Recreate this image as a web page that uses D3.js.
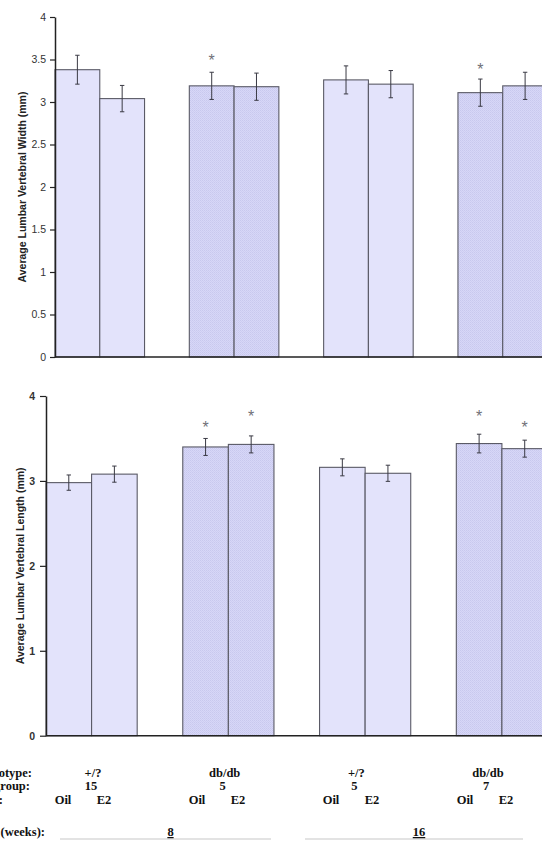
<!DOCTYPE html>
<meta charset="utf-8">
<script src="https://d3js.org/d3.v7.min.js"></script>
<style>
body { margin: 0; background: #fff; }
svg { display: block; }
.tick text { font-family: "Liberation Sans", Arial, sans-serif; }
.tbl { font-family: "Liberation Serif", "Times New Roman", serif; font-weight: bold; font-size: 12.5px; fill: #111; }
</style>
<div id="chart"></div>
<script>
// values
var genotypes = ["+/?", "db/db", "+/?", "db/db"];
var nPerGroup = ["15", "5", "5", "7"];
var treatments = ["Oil", "E2"];
var ages = ["8", "16"];

var widthMean = [3.38, 3.04, 3.19, 3.18, 3.26, 3.21, 3.11, 3.19];
var widthErr  = [0.17, 0.155, 0.16, 0.16, 0.165, 0.16, 0.16, 0.16];
var widthStar = [null, null, 3.53, null, null, null, 3.42, null];

var lengthMean = [2.98, 3.08, 3.40, 3.43, 3.16, 3.09, 3.44, 3.38];
var lengthErr  = [0.09, 0.095, 0.10, 0.10, 0.10, 0.095, 0.11, 0.10];
var lengthStar = [null, null, 3.67, 3.80, null, null, 3.80, 3.67];

var W = 542, H = 842;

var svg = d3.select("#chart").append("svg")
  .attr("width", W)
  .attr("height", H);

// fine hatch for the db/db bars
var defs = svg.append("defs");
var pat = defs.append("pattern")
  .attr("id", "hatch")
  .attr("patternUnits", "userSpaceOnUse")
  .attr("width", 2).attr("height", 2);
pat.append("rect").attr("width", 2).attr("height", 2).attr("fill", "#d7d7f7");
pat.append("rect").attr("width", 1).attr("height", 1).attr("fill", "#c8c8ee");
pat.append("rect").attr("x", 1).attr("y", 1).attr("width", 1).attr("height", 1).attr("fill", "#cdcdf2");

function toRows(means, errs, stars) {
  return means.map(function(m, i) {
    return {group: Math.floor(i / 2), trt: treatments[i % 2], mean: m, err: errs[i], star: stars[i]};
  });
}

function panel(opt) {
  var rows = toRows(opt.means, opt.errs, opt.stars);
  var g = svg.append("g");

  var x0 = d3.scaleBand()
    .domain(d3.range(genotypes.length))
    .range([opt.left, 547.5])
    .paddingInner(1 / 3)
    .paddingOuter(0);

  var x1 = d3.scaleBand()
    .domain(treatments)
    .range([0, x0.bandwidth()]);

  var y = d3.scaleLinear()
    .domain([0, 4])
    .range([opt.bottom, opt.top]);

  function cx(d) { return x0(d.group) + x1(d.trt) + x1.bandwidth() / 2; }

  // bars
  g.selectAll(".bar")
    .data(rows)
    .enter().append("rect")
      .attr("class", "bar")
      .attr("x", function(d) { return x0(d.group) + x1(d.trt); })
      .attr("width", x1.bandwidth())
      .attr("y", function(d) { return y(d.mean); })
      .attr("height", function(d) { return y(0) - y(d.mean); })
      .attr("fill", function(d) { return genotypes[d.group] === "db/db" ? "url(#hatch)" : "#e3e3fb"; })
      .attr("stroke", "#5a5a66")
      .attr("stroke-width", 1.1);

  // error bars
  var eb = g.selectAll(".err")
    .data(rows)
    .enter().append("g")
      .attr("class", "err")
      .attr("stroke", "#3a3a44")
      .attr("stroke-width", 1);
  eb.append("line")
    .attr("x1", cx).attr("x2", cx)
    .attr("y1", function(d) { return y(d.mean - d.err); })
    .attr("y2", function(d) { return y(d.mean + d.err); });
  [-1, 1].forEach(function(s) {
    eb.append("line")
      .attr("x1", function(d) { return cx(d) - 2.2; })
      .attr("x2", function(d) { return cx(d) + 2.2; })
      .attr("y1", function(d) { return y(d.mean + s * d.err); })
      .attr("y2", function(d) { return y(d.mean + s * d.err); });
  });

  // significance stars
  g.selectAll(".star")
    .data(rows.filter(function(d) { return d.star !== null; }))
    .enter().append("text")
      .attr("class", "star")
      .attr("x", cx)
      .attr("y", function(d) { return y(d.star) + 9; })
      .attr("text-anchor", "middle")
      .style("font-family", "Liberation Sans, Arial, sans-serif")
      .style("font-size", "16px")
      .style("fill", "#707078")
      .text("*");

  // baseline
  g.append("line")
    .attr("x1", opt.left).attr("x2", W)
    .attr("y1", y(0)).attr("y2", y(0))
    .attr("stroke", "#222").attr("stroke-width", 1.5);

  // y axis
  var ax = g.append("g")
    .attr("transform", "translate(" + opt.left + ",0)")
    .call(d3.axisLeft(y)
      .tickValues(opt.ticks)
      .tickSize(opt.tickLen)
      .tickSizeOuter(0)
      .tickPadding(opt.tickPad)
      .tickFormat(function(d) { return String(d); }));
  ax.select(".domain").attr("stroke", "#222").attr("stroke-width", 1.5);
  ax.selectAll(".tick line").attr("stroke", "#222").attr("stroke-width", 1.2);
  ax.selectAll(".tick text")
    .style("font-size", "10.5px")
    .style("font-weight", opt.tickBold ? "bold" : "normal")
    .style("fill", "#333");

  g.append("text")
    .attr("transform", "translate(" + opt.titleX + "," + ((opt.top + opt.bottom) / 2) + ") rotate(-90)")
    .attr("text-anchor", "middle")
    .attr("dy", "0.35em")
    .style("font-family", "Liberation Sans, Arial, sans-serif")
    .style("font-weight", "bold")
    .style("font-size", "10.5px")
    .style("fill", "#222")
    .text(opt.title);
}

panel({
  means: widthMean, errs: widthErr, stars: widthStar,
  left: 55, top: 17, bottom: 357,
  ticks: d3.range(0, 4.01, 0.5), tickLen: 5, tickPad: 4, tickBold: false,
  titleX: 22, title: "Average Lumbar Vertebral Width (mm)"
});

panel({
  means: lengthMean, errs: lengthErr, stars: lengthStar,
  left: 46, top: 396, bottom: 735.7,
  ticks: [0, 1, 2, 3, 4], tickLen: 6, tickPad: 5, tickBold: true,
  titleX: 20, title: "Average Lumbar Vertebral Length (mm)"
});

// table beneath the lower panel (cropped at the left edge, as in the figure)
var tbl = svg.append("g").attr("class", "tbl");
var rowY = [777, 790, 804, 836];
var rowLabels = [["Genotype:", 32], ["n/group:", 30], ["Tx:", 3], ["Age (weeks):", 45]];

tbl.selectAll(".rowlab")
  .data(rowLabels)
  .enter().append("text")
    .attr("x", function(d) { return d[1]; })
    .attr("y", function(d, i) { return rowY[i]; })
    .attr("text-anchor", "end")
    .text(function(d) { return d[0]; });

var genoX = d3.scaleLinear().domain([0, 3]).range([93, 488]);
var nX = d3.scaleLinear().domain([0, 3]).range([91, 486]);
var oilX = d3.scaleLinear().domain([0, 3]).range([63, 465]);
var trtGap = 41;

tbl.selectAll(".geno")
  .data(genotypes)
  .enter().append("text")
    .attr("x", function(d, i) { return genoX(i); })
    .attr("y", rowY[0])
    .attr("text-anchor", "middle")
    .text(function(d) { return d; });

tbl.selectAll(".n")
  .data(nPerGroup)
  .enter().append("text")
    .attr("x", function(d, i) { return nX(i); })
    .attr("y", rowY[1])
    .attr("text-anchor", "middle")
    .text(function(d) { return d; });

var trtCells = [];
genotypes.forEach(function(gn, i) {
  treatments.forEach(function(t, j) { trtCells.push({g: i, j: j, t: t}); });
});
tbl.selectAll(".trt")
  .data(trtCells)
  .enter().append("text")
    .attr("x", function(d) { return oilX(d.g) + d.j * trtGap; })
    .attr("y", rowY[2])
    .attr("text-anchor", "middle")
    .text(function(d) { return d.t; });

// age spans
var ageSpan = [[60, 271], [305, 523]];
ages.forEach(function(a, i) {
  var s = ageSpan[i];
  tbl.append("line")
    .attr("x1", s[0]).attr("x2", s[1])
    .attr("y1", 839).attr("y2", 839)
    .attr("stroke", "#c8c8c8").attr("stroke-width", 1.2);
  tbl.append("text")
    .attr("x", (s[0] + s[1]) / 2 + 5)
    .attr("y", rowY[3])
    .attr("text-anchor", "middle")
    .style("text-decoration", "underline")
    .text(a);
});
</script>
